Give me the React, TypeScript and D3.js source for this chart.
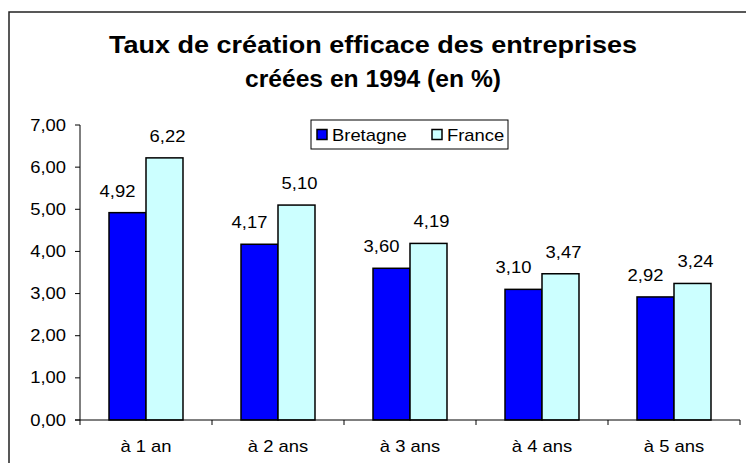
import React from "react";
import * as d3 from "d3";

const categories = ["à 1 an", "à 2 ans", "à 3 ans", "à 4 ans", "à 5 ans"];
const seriesNames = ["Bretagne", "France"];
const bretagne = [4.92, 4.17, 3.6, 3.1, 2.92];
const france = [6.22, 5.1, 4.19, 3.47, 3.24];
const yTicks = [0, 1, 2, 3, 4, 5, 6, 7];
const colors = ["#0000FF", "#CCFFFF"];
const titleLines = ["Taux de création efficace des entreprises", "créées en 1994 (en %)"];

const W = 746;
const H = 463;
const FONT = "'Liberation Sans', Arial, sans-serif";
const SX = 1.15;

const fmt = (v: number) => d3.format(".2f")(v).replace(".", ",");

function T({
  x,
  y,
  anchor = "start",
  size = 16,
  children,
}: {
  x: number;
  y: number;
  anchor?: string;
  size?: number;
  children: React.ReactNode;
}) {
  return (
    <text
      transform={`translate(${x},${y}) scale(${SX},1)`}
      textAnchor={anchor}
      fontSize={size}
      fill="#000"
    >
      {children}
    </text>
  );
}

export default function App() {
  const plotLeft = 80;
  const plotRight = 740;
  const plotTop = 125;
  const plotBottom = 420;

  const x0 = d3.scaleBand<string>().domain(categories).range([plotLeft, plotRight]).padding(0);
  const x1 = d3
    .scaleBand<string>()
    .domain(seriesNames)
    .range([0, x0.bandwidth()])
    .paddingInner(0)
    .paddingOuter(0.784);
  const y = d3.scaleLinear().domain([0, 7]).range([plotBottom, plotTop]);

  const data = [bretagne, france];
  const labelDx = [-10, 3];

  const boundaries = [...categories.map((c) => x0(c) as number), plotRight];

  return (
    <svg
      width={W}
      height={H}
      style={{ position: "absolute", left: 0, top: 0, background: "#fff" }}
      fontFamily={FONT}
    >
      <rect x={0} y={0} width={W} height={H} fill="#fff" />
      <rect x={9} y={12} width={W + 20} height={H + 20} fill="none" stroke="#222" strokeWidth={1.5} />

      <text x={373} y={53} textAnchor="middle" fontSize={24} fontWeight="bold" textLength={528} lengthAdjust="spacingAndGlyphs">
        {titleLines[0]}
      </text>
      <text x={373} y={87} textAnchor="middle" fontSize={24} fontWeight="bold" textLength={256} lengthAdjust="spacingAndGlyphs">
        {titleLines[1]}
      </text>

      {/* bars */}
      {data.map((vals, si) =>
        vals.map((v, ci) => {
          const bx = (x0(categories[ci]) as number) + (x1(seriesNames[si]) as number);
          return (
            <rect
              key={`b${si}-${ci}`}
              x={bx}
              y={y(v)}
              width={x1.bandwidth()}
              height={plotBottom - y(v)}
              fill={colors[si]}
              stroke="#000"
              strokeWidth={1.5}
            />
          );
        })
      )}

      {/* value labels */}
      {data.map((vals, si) =>
        vals.map((v, ci) => {
          const cx =
            (x0(categories[ci]) as number) + (x1(seriesNames[si]) as number) + x1.bandwidth() / 2 + labelDx[si];
          return (
            <T key={`l${si}-${ci}`} x={cx} y={y(v) - 16} anchor="middle">
              {fmt(v)}
            </T>
          );
        })
      )}

      {/* y axis */}
      <line x1={plotLeft} x2={plotLeft} y1={plotTop} y2={plotBottom} stroke="#000" strokeWidth={1} />
      {yTicks.map((t) => (
        <g key={`yt${t}`}>
          <line x1={plotLeft - 5} x2={plotLeft} y1={y(t)} y2={y(t)} stroke="#000" strokeWidth={1} />
          <T x={66} y={y(t) + 5.5} anchor="end">
            {fmt(t)}
          </T>
        </g>
      ))}

      {/* x axis */}
      <line x1={plotLeft - 5} x2={plotRight} y1={plotBottom} y2={plotBottom} stroke="#000" strokeWidth={1} />
      {boundaries.map((bx, i) => (
        <line key={`xt${i}`} x1={bx} x2={bx} y1={plotBottom} y2={plotBottom + 5} stroke="#000" strokeWidth={1} />
      ))}
      {categories.map((c) => (
        <T key={c} x={(x0(c) as number) + x0.bandwidth() / 2} y={452} anchor="middle">
          {c}
        </T>
      ))}

      {/* legend */}
      <rect x={311} y={120} width={197} height={29} fill="#fff" stroke="#000" strokeWidth={1} />
      {seriesNames.map((s, i) => {
        const lx = i === 0 ? 317 : 432;
        return (
          <g key={s}>
            <rect x={lx} y={129.5} width={10} height={10} fill={colors[i]} stroke="#000" strokeWidth={1.5} />
            <T x={lx + 15} y={141}>
              {s}
            </T>
          </g>
        );
      })}
    </svg>
  );
}
